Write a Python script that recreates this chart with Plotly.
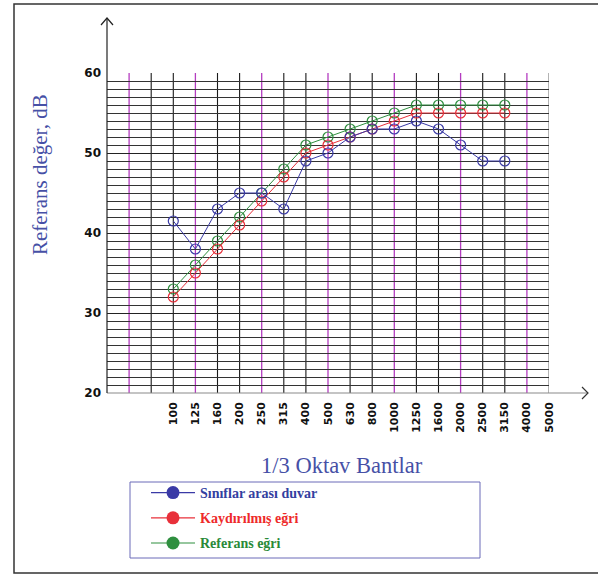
import plotly.graph_objects as go

# ---- data ----
bands = ['50', '63', '80', '100', '125', '160', '200', '250', '315', '400', '500',
         '630', '800', '1000', '1250', '1600', '2000', '2500', '3150', '4000', '5000']
tick_labels = ['', '', ''] + bands[3:]
octave_bands = ['63', '125', '250', '500', '1000', '2000', '4000']
meas_bands = ['100', '125', '160', '200', '250', '315', '400', '500', '630', '800',
              '1000', '1250', '1600', '2000', '2500', '3150']
sinif = [41.5, 38, 43, 45, 45, 43, 49, 50, 52, 53, 53, 54, 53, 51, 49, 49]
kaydir = [32, 35, 38, 41, 44, 47, 50, 51, 52, 53, 54, 55, 55, 55, 55, 55]
referans = [33, 36, 39, 42, 45, 48, 51, 52, 53, 54, 55, 56, 56, 56, 56, 56]
names = ['Sınıflar arası duvar', 'Kaydırılmış eğri', 'Referans eğri']
line_colors = ['#3a3aa6', '#e8303a', '#2f8f3f']
text_colors = ['#3340a0', '#ee2a2a', '#2a8a38']

W, H = 598, 577
L, R, T, B = 107, 49, 73, 184
pw, ph = W - L - R, H - T - B


def px(x):
    return (x - L) / pw


def py(y):
    return (H - B - y) / ph


fig = go.Figure()
for vals, col in zip([referans, kaydir, sinif], [line_colors[2], line_colors[1], line_colors[0]]):
    fig.add_trace(go.Scatter(
        x=meas_bands, y=vals, mode='lines+markers', showlegend=False,
        line=dict(color=col, width=1),
        marker=dict(symbol='circle-open', size=10, color=col, line=dict(width=1.2)),
        cliponaxis=False))

# legend entries
for i, (n, lc, tc) in enumerate(zip(names, line_colors, text_colors)):
    fig.add_trace(go.Scatter(
        x=[None], y=[None], mode='lines+markers', legendgroup=str(i),
        name=f'<b><span style="color:{tc}">{n}</span></b>',
        line=dict(color=lc, width=1.2),
        marker=dict(symbol='circle', size=13, color=lc)))

serif = 'Liberation Serif'
sans = 'DejaVu Sans'

shapes = []
# vertical grid lines (magenta at octave bands, grey at the right edge, black elsewhere)
for xi, b in enumerate(bands):
    if xi == 0:
        continue
    if b in octave_bands:
        col, wd = '#b43cc0', 1.3
    elif xi == len(bands) - 1:
        col, wd = '#8a8a8a', 1.3
    else:
        col, wd = '#1a1a1a', 1.1
    shapes.append(dict(type='line', xref='x', yref='paper', x0=xi, x1=xi, y0=0, y1=1,
                       line=dict(color=col, width=wd), layer='between'))
# x axis with arrow
shapes.append(dict(type='line', xref='paper', yref='paper', x0=0, x1=px(588), y0=0, y1=0,
                   line=dict(color='#8a8a8a', width=1.2)))
shapes.append(dict(type='path', xref='paper', yref='paper',
                   path=f'M{px(582)},{py(387)} L{px(588)},{py(393)} L{px(582)},{py(399)}',
                   line=dict(color='#333', width=1.2)))
# y axis with arrow
shapes.append(dict(type='line', xref='paper', yref='paper', x0=0, x1=0, y0=0, y1=py(18),
                   line=dict(color='#222', width=1.2)))
shapes.append(dict(type='path', xref='paper', yref='paper',
                   path=f'M{px(101)},{py(25)} L{px(107)},{py(18)} L{px(113)},{py(25)}',
                   line=dict(color='#222', width=1.2)))
# outer frame
shapes.append(dict(type='rect', xref='paper', yref='paper', x0=px(14), x1=px(610), y0=py(573), y1=py(4),
                   line=dict(color='#333', width=1.5)))
# legend box
shapes.append(dict(type='rect', xref='paper', yref='paper', x0=px(130), x1=px(480), y0=py(558), y1=py(482),
                   line=dict(color='#6a6ab8', width=1)))

annotations = [
    dict(text='1/3 Oktav Bantlar', xref='paper', yref='paper', x=px(342), y=py(465),
         showarrow=False, font=dict(family=serif, size=22.5, color='#4650a6'),
         xanchor='center', yanchor='middle'),
    dict(text='Referans değer, dB', xref='paper', yref='paper', x=px(40), y=py(175),
         showarrow=False, textangle=-90, font=dict(family=serif, size=21, color='#4650a6'),
         xanchor='center', yanchor='middle'),
]

fig.update_layout(
    width=W, height=H, margin=dict(l=L, r=R, t=T, b=B),
    paper_bgcolor='white', plot_bgcolor='white',
    shapes=shapes, annotations=annotations,
    xaxis=dict(type='category', categoryorder='array', categoryarray=bands,
               range=[0, len(bands) - 1], tickmode='array', tickvals=bands, ticktext=tick_labels,
               tickangle=-90, showgrid=False,
               showline=False, zeroline=False, ticks='', ticklabelstandoff=6,
               tickfont=dict(family=sans, size=11, color='#111', weight='bold')),
    yaxis=dict(range=[20, 60], dtick=10, showgrid=True, gridcolor='#222', gridwidth=1,
               minor=dict(dtick=1, showgrid=True, gridcolor='#333', gridwidth=1),
               showline=False, zeroline=False, ticks='', ticklabelstandoff=5,
               tickfont=dict(family=sans, size=12, color='#111', weight='bold')),
    legend=dict(x=px(146), y=py(477), xanchor='left', yanchor='top',
                bgcolor='rgba(0,0,0,0)', borderwidth=0, itemwidth=44,
                tracegroupgap=4, font=dict(family=serif, size=14)),
)

fig.write_html('out.html', config={'displayModeBar': False},
               post_script="document.body.style.margin='0';document.body.style.overflow='hidden';")
